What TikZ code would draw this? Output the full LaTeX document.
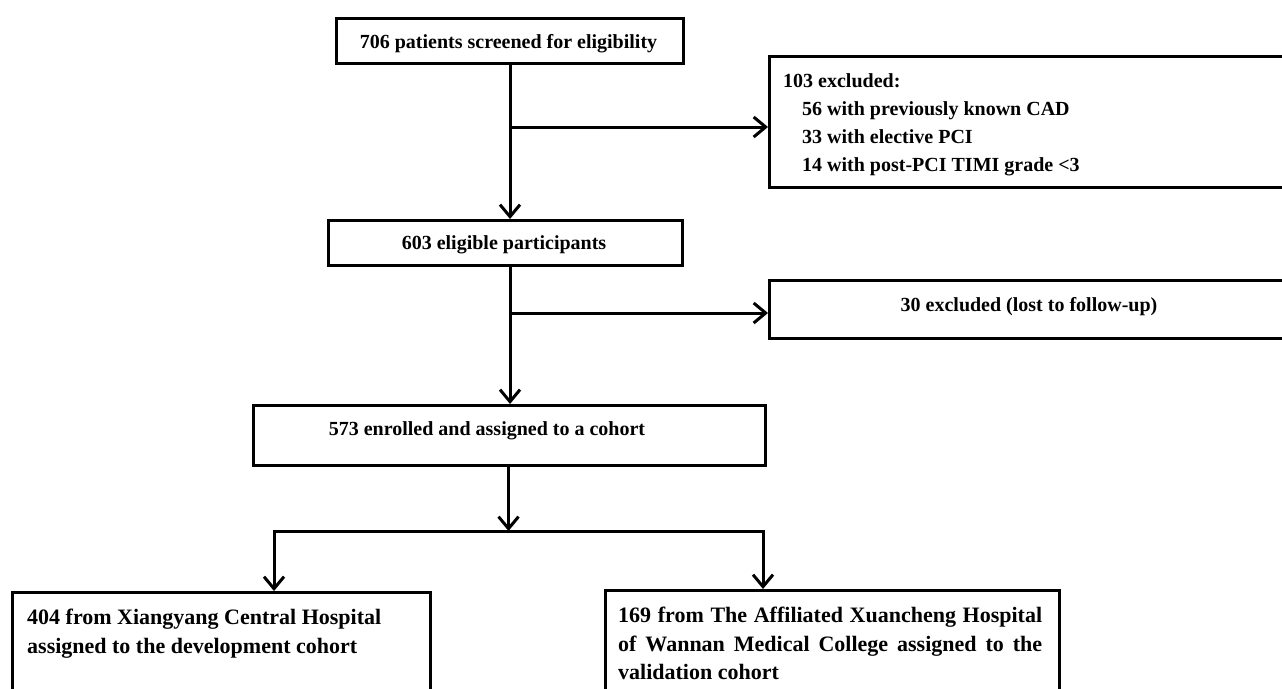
\documentclass[tikz,border=0pt]{standalone}
\usepackage{fontspec}
\setmainfont{Liberation Serif}
\usetikzlibrary{arrows.meta}
\begin{document}
\begin{tikzpicture}[x=1pt,y=-1pt,
  box/.style={draw=black, line width=3pt, rectangle, inner sep=0pt, anchor=north west},
  txt/.style={inner sep=0pt, font=\bfseries\fontsize{20}{28}\selectfont},
  bigtxt/.style={inner sep=0pt, font=\bfseries\fontsize{22}{28.5}\selectfont},
  conn/.style={line width=3pt, line join=miter},
  arr/.style={line width=3pt, line join=miter, -{Straight Barb[length=12pt,width=20pt,line width=3pt]}}]
\useasboundingbox (0,0) rectangle (1282,688);
\fill[white] (0,0) rectangle (1282,688);
\clip (0,0) rectangle (1282,688);

% boxes
\node[box, minimum width=347pt, minimum height=45pt] (b1) at (335,17) {};
\node[box, minimum width=525pt, minimum height=131pt] (bx1) at (768,55) {};
\node[box, minimum width=354pt, minimum height=45pt] (b2) at (327,219) {};
\node[box, minimum width=525pt, minimum height=58pt] (bx2) at (768,279) {};
\node[box, minimum width=512pt, minimum height=60pt] (b3) at (252,404) {};
\node[box, minimum width=418pt, minimum height=130pt] (b4) at (11,591) {};
\node[box, minimum width=454pt, minimum height=130pt] (b5) at (604,589) {};

% texts
\node[txt, anchor=base] (t1) at (508.5,48) {706 patients screened for eligibility};
\node[txt, anchor=north west, align=left] (tx1) at (783,73)
  {103 excluded:\\\hspace*{19pt}56 with previously known CAD\\\hspace*{19pt}33 with elective PCI\\\hspace*{19pt}14 with post-PCI TIMI grade <3};
\node[txt, anchor=base] (t2) at (504,249) {603 eligible participants};
\node[txt, anchor=base] (tx2) at (1029,311) {30 excluded (lost to follow-up)};
\node[txt, anchor=base] (t3) at (487,435) {573 enrolled and assigned to a cohort};
\node[bigtxt, anchor=north west, align=left] (t4) at (27,609)
  {404 from Xiangyang Central Hospital\\assigned to the development cohort};
\node[bigtxt, anchor=north west, text width=424pt, align=justify] (t5) at (618,607)
  {169 from The Affiliated Xuancheng Hospital\linebreak of Wannan Medical College assigned to the\linebreak validation cohort};

% connectors
\coordinate (j1) at (508.5,127);
\coordinate (j2) at (508.5,313);
\coordinate (split) at (508.5,531);
\coordinate (lft) at (274,531);
\coordinate (rgt) at (763,531);
\draw[arr] (b1.south) -- (b1.south |- b2.north);
\draw[arr] (j1) -- (j1 -| bx1.west);
\draw[arr] (b1.south |- b2.south) -- (b1.south |- b3.north);
\draw[arr] (j2) -- (j2 -| bx2.west);
\draw[arr] (split |- b3.south) -- (split);
\draw[arr] (split) -- (lft) -- (lft |- b4.north);
\draw[arr] (split) -- (rgt) -- (rgt |- b5.north);
\end{tikzpicture}
\end{document}
